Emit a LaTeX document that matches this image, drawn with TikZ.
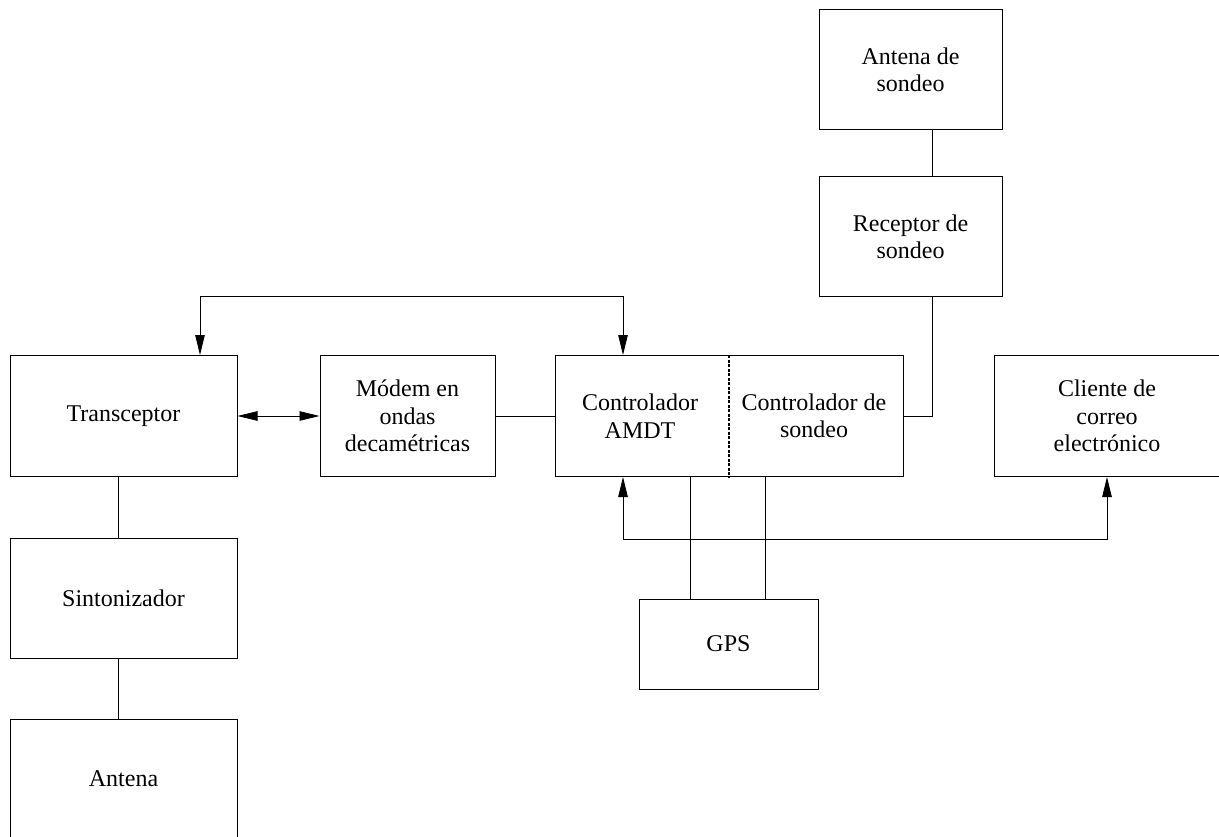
\documentclass[tikz,border=0pt]{standalone}
\usepackage{fontspec}
\setmainfont{Liberation Serif}
\usetikzlibrary{arrows.meta}
\begin{document}
\begin{tikzpicture}[x=1pt,y=-1pt,
  box/.style={draw, line width=1pt, rectangle, inner sep=0pt, align=center,
    font=\fontsize{24}{27.5}\selectfont},
  lbl/.style={inner sep=0pt, align=center, font=\fontsize{24}{27.5}\selectfont},
  conn/.style={line width=0.8pt},
  divider/.style={line width=1.6pt, dash pattern=on 3pt off 1.5pt},
  tipb/.style={{Triangle[length=20pt,width=9.5pt]}-{Triangle[length=20pt,width=9.5pt]}},
]
\clip (0,0) rectangle (1219,837);
\fill[white] (0,0) rectangle (1219,837);

\node[box, minimum width=183pt, minimum height=120pt] (antS) at (910.5,70) {Antena de\\sondeo};
\node[box, minimum width=183pt, minimum height=120pt] (rec) at (910.5,237) {Receptor de\\sondeo};
\node[box, minimum width=227pt, minimum height=121pt] (trans) at (123.5,416) {Transceptor};
\node[box, minimum width=175pt, minimum height=121pt] (modem) at (407.5,416) {Módem en\\ondas\\decamétricas};
\node[box, minimum width=348pt, minimum height=121pt] (ctrl) at (729,416) {};
\node[lbl] (ctrlA) at (640,416) {Controlador\\AMDT};
\node[lbl] (ctrlB) at (814,416) {Controlador de\\sondeo};
\node[box, minimum width=226pt, minimum height=121pt] (cli) at (1107,416) {Cliente de\\correo\\electrónico};
\node[box, minimum width=227pt, minimum height=120pt] (sint) at (123.5,598) {Sintonizador};
\node[box, minimum width=227pt, minimum height=120pt] (ant) at (123.5,779) {Antena};
\node[box, minimum width=179pt, minimum height=90pt] (gps) at (728.5,644) {GPS};

\coordinate (xr) at (932,0);
\coordinate (xl) at (200,0);
\coordinate (xa) at (623,0);
\coordinate (xg1) at (690,0);
\coordinate (xg2) at (765,0);
\coordinate (xt) at (118,0);
\coordinate (ytop) at (0,296);
\coordinate (ybot) at (0,539);

\draw[divider] (ctrl.north) -- (ctrl.south);

\draw[conn] (antS.south -| xr) -- (rec.north -| xr);
\draw[conn] (rec.south -| xr) |- (ctrl.east);
\draw[conn, tipb] (trans.north -| xl) -- (xl |- ytop) -- (xa |- ytop) -- (ctrl.north -| xa);
\draw[conn, tipb] (ctrl.south -| xa) -- (xa |- ybot) -- (ybot -| cli) -- (cli.south);
\draw[conn, tipb] (trans.east) -- (modem.west);
\draw[conn] (modem.east) -- (ctrl.west);
\draw[conn] (trans.south -| xt) -- (sint.north -| xt);
\draw[conn] (sint.south -| xt) -- (ant.north -| xt);
\draw[conn] (ctrl.south -| xg1) -- (gps.north -| xg1);
\draw[conn] (ctrl.south -| xg2) -- (gps.north -| xg2);
\end{tikzpicture}
\end{document}
